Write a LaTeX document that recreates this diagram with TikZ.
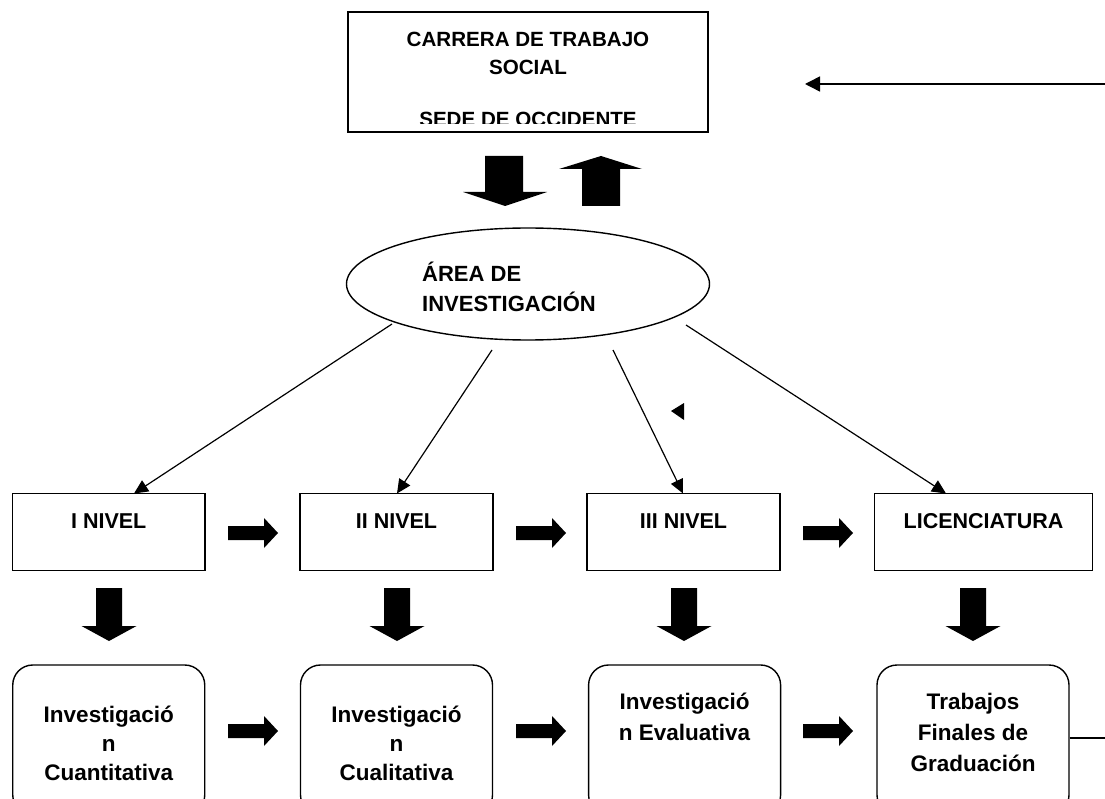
\documentclass[tikz,border=0pt]{standalone}
\usepackage{fontspec}
\setmainfont{Liberation Sans}
\usetikzlibrary{arrows.meta,shapes.geometric}
\begin{document}
\begin{tikzpicture}[x=1pt,y=-1pt,
  topbox/.style={draw, line width=1.8pt, inner sep=0pt, minimum width=360pt, minimum height=120pt},
  lvl/.style={draw, line width=1.6pt, inner sep=0pt, minimum height=77pt},
  rbox/.style={draw, line width=1.4pt, rounded corners=20pt, inner sep=0pt, minimum width=192pt, minimum height=150pt},
  oval/.style={draw, ellipse, line width=1.4pt, inner sep=0pt, minimum width=363pt, minimum height=112pt},
  ttop/.style={inner sep=0pt, anchor=base, font=\fontsize{20.6}{24}\selectfont\bfseries},
  tarea/.style={inner sep=0pt, anchor=base west, font=\fontsize{22}{26}\selectfont\bfseries},
  tlvl/.style={inner sep=0pt, anchor=base, font=\fontsize{21.5}{25}\selectfont\bfseries},
  tbot/.style={inner sep=0pt, anchor=base, font=\fontsize{22.5}{26}\selectfont\bfseries},
  conn/.style={line width=1.2pt, -{Triangle[length=14pt,width=13pt]}},
  blk/.style={fill=black}
]
\useasboundingbox (0,0) rectangle (1105,799);
\clip (0,0) rectangle (1105,799);

% top box
\node[topbox] (top) at (528,72) {};
\begin{scope}
  \clip (349,13) rectangle (707,123.5);
  \node[ttop] (top1) at (528,47) {CARRERA DE TRABAJO};
  \node[ttop] (top2) at (528,75) {SOCIAL};
  \node[ttop] (top3) at (528,127) {SEDE DE OCCIDENTE};
\end{scope}

% incoming arrow from right
\coordinate (rin) at (1105,84);
\coordinate (rtip) at (805,84);
\draw[line width=1.5pt, -{Triangle[length=15pt,width=15pt]}] (rin) -- (rtip);

% block arrows between top and ellipse
\fill[blk] (485,156)--(523,156)--(523,192)--(547,192)--(505,206)--(463,192)--(485,192)--cycle;
\fill[blk] (601,156)--(642,169)--(620,169)--(620,206)--(582,206)--(582,169)--(559,169)--cycle;

% ellipse
\node[oval] (area) at (528,284) {};
\node[tarea] (area1) at (422,282) {ÁREA DE};
\node[tarea] (area2) at (422,312) {INVESTIGACIÓN};

% level boxes
\node[lvl, minimum width=192.5pt] (l1) at (108.75,532) {};
\node[lvl, minimum width=193pt] (l2) at (396.5,532) {};
\node[lvl, minimum width=193pt] (l3) at (683.5,532) {};
\node[lvl, minimum width=218pt] (l4) at (983.5,532) {};
\node[tlvl] (tl1) at (108.75,528.5) {I NIVEL};
\node[tlvl] (tl2) at (396.5,528.5) {II NIVEL};
\node[tlvl] (tl3) at (683.5,528.5) {III NIVEL};
\node[tlvl] (tl4) at (983.5,528.5) {LICENCIATURA};

% connectors from ellipse to levels
\coordinate (s1) at (392,324);
\coordinate (s2) at (492,350);
\coordinate (s3) at (613,350);
\coordinate (s4) at (686,325);
\coordinate (e1) at (134,493.5);
\coordinate (e2) at (397,493.5);
\coordinate (e3) at (683,493.5);
\coordinate (e4) at (946,493.5);
\draw[conn] (s1) -- (e1);
\draw[conn] (s2) -- (e2);
\draw[conn] (s3) -- (e3);
\draw[conn] (s4) -- (e4);

% stray arrowhead
\fill[blk] (671,411)--(684,403)--(684,420)--cycle;

% horizontal block arrows
\foreach \a in {228,516,803}{
  \fill[blk] (\a,526)--(\a+36,526)--(\a+36,518)--(\a+50,533)--(\a+36,548)--(\a+36,540)--(\a,540)--cycle;
  \fill[blk] (\a,724)--(\a+36,724)--(\a+36,716)--(\a+50,731)--(\a+36,746)--(\a+36,738)--(\a,738)--cycle;
}
% down block arrows
\foreach \c in {109,397,684,973}{
  \fill[blk] (\c-13,588)--(\c+13,588)--(\c+13,626)--(\c+27.5,626)--(\c,641)--(\c-27.5,626)--(\c-13,626)--cycle;
}

% bottom rounded boxes
\node[rbox] (b1) at (108.75,740) {};
\node[rbox] (b2) at (396.5,740) {};
\node[rbox] (b3) at (684.6,740) {};
\node[rbox] (b4) at (973,740) {};

\node[tbot] (b1a) at (108.75,722) {Investigació};
\node[tbot] (b1b) at (108.75,751) {n};
\node[tbot] (b1c) at (108.75,780) {Cuantitativa};
\node[tbot] (b2a) at (396.5,722) {Investigació};
\node[tbot] (b2b) at (396.5,751) {n};
\node[tbot] (b2c) at (396.5,780) {Cualitativa};
\node[tbot] (b3a) at (684.6,709) {Investigació};
\node[tbot] (b3b) at (684.6,740) {n Evaluativa};
\node[tbot] (b4a) at (973,709) {Trabajos};
\node[tbot] (b4b) at (973,740) {Finales de};
\node[tbot] (b4c) at (973,771) {Graduación};

% line out of last box
\coordinate (bout) at (1105,738);
\draw[line width=1.2pt] (b4.east |- bout) -- (bout);
\end{tikzpicture}
\end{document}
